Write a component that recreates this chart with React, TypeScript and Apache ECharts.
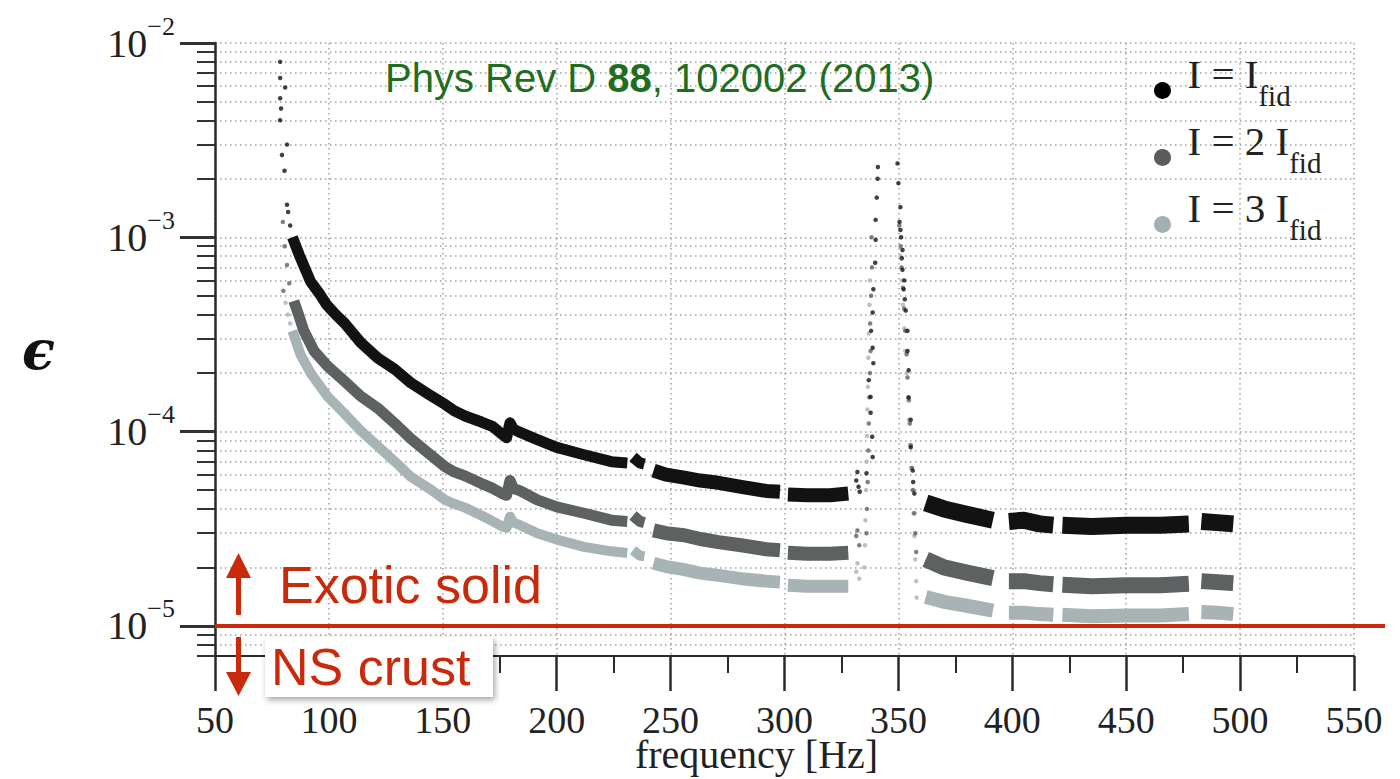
import React, { useEffect, useRef } from 'react';
import * as echarts from 'echarts';

// ---------- data ----------
const SERIES_NAMES = ['I = I_fid', 'I = 2 I_fid', 'I = 3 I_fid'];
const LEGEND_LABELS = ['{a|I = I}{s|fid}', '{a|I = 2 I}{s|fid}', '{a|I = 3 I}{s|fid}'];
const SERIES_COLORS = ['#121212', '#5d6161', '#a7b3b5'];
const LEGEND_COLORS = ['#000000', '#5b5b5b', '#a3b0b1'];

const X_MIN = 50;
const X_MAX = 550;
const X_STEP = 50;
const Y_MIN = 7e-6;
const Y_MAX = 1e-2;
const Y_DECADES = [1e-5, 1e-4, 1e-3, 1e-2];
const Y_GRID = [
  7e-6, 8e-6, 9e-6,
  1e-5, 2e-5, 3e-5, 4e-5, 5e-5, 6e-5, 7e-5, 8e-5, 9e-5,
  1e-4, 2e-4, 3e-4, 4e-4, 5e-4, 6e-4, 7e-4, 8e-4, 9e-4,
  1e-3, 2e-3, 3e-3, 4e-3, 5e-3, 6e-3, 7e-3, 8e-3, 9e-3,
  1e-2,
];

// dense bands (segments separated by gaps in the measurement)
const blackBand: number[][][] = [
  [[84, 1.0e-3], [87, 8.1e-4], [90, 6.7e-4], [92, 5.9e-4], [96, 5.1e-4], [99, 4.5e-4], [103, 4.0e-4], [107, 3.6e-4], [114, 2.87e-4], [121.5, 2.39e-4], [129, 2.09e-4], [136, 1.78e-4], [144, 1.55e-4], [151, 1.38e-4], [155, 1.28e-4], [160, 1.2e-4], [167, 1.12e-4], [172, 1.06e-4], [176, 9.7e-5], [178, 9.3e-5], [179.5, 1.11e-4], [181, 1.03e-4], [184, 9.9e-5], [191.5, 9.1e-5], [200, 8.3e-5], [212, 7.6e-5], [224, 7.0e-5], [231, 6.9e-5]],
  [[233.5, 7.4e-5], [236.5, 6.9e-5], [238.5, 6.8e-5]],
  [[242.5, 6.3e-5], [248, 6.0e-5], [256, 5.8e-5], [263, 5.6e-5], [271, 5.45e-5], [281, 5.2e-5], [292, 4.95e-5], [298, 4.9e-5]],
  [[301.5, 4.75e-5], [310, 4.7e-5], [320, 4.7e-5], [328, 4.8e-5]],
  [[362, 4.3e-5], [370, 4.0e-5], [380, 3.75e-5], [391.5, 3.5e-5]],
  [[398.5, 3.45e-5], [405, 3.5e-5], [412, 3.35e-5], [418, 3.3e-5]],
  [[422, 3.3e-5], [435, 3.25e-5], [450, 3.3e-5], [465, 3.3e-5], [477.5, 3.35e-5]],
  [[483, 3.45e-5], [490, 3.4e-5], [497, 3.35e-5]],
];
const darkBand: number[][][] = [
  [[84.6, 4.7e-4], [87, 3.9e-4], [89, 3.3e-4], [93.5, 2.6e-4], [99.3, 2.18e-4], [106.8, 1.82e-4], [114, 1.52e-4], [121.5, 1.32e-4], [129, 1.1e-4], [136, 9.2e-5], [144, 7.7e-5], [151, 6.6e-5], [155, 6.2e-5], [160, 5.9e-5], [167, 5.4e-5], [172, 5.1e-5], [176, 4.8e-5], [178, 4.7e-5], [179.5, 5.6e-5], [181, 5.1e-5], [184, 4.95e-5], [191.5, 4.45e-5], [200, 4.1e-5], [212, 3.8e-5], [224, 3.5e-5], [231, 3.45e-5]],
  [[233.5, 3.7e-5], [236.5, 3.45e-5], [238.5, 3.4e-5]],
  [[242.5, 3.1e-5], [248, 3.0e-5], [256, 2.93e-5], [263, 2.8e-5], [271, 2.7e-5], [281, 2.6e-5], [292, 2.48e-5], [298, 2.45e-5]],
  [[301.5, 2.38e-5], [310, 2.35e-5], [320, 2.35e-5], [328, 2.38e-5]],
  [[362, 2.2e-5], [370, 2.0e-5], [380, 1.88e-5], [391.5, 1.76e-5]],
  [[398.5, 1.7e-5], [405, 1.7e-5], [412, 1.66e-5], [418, 1.64e-5]],
  [[422, 1.63e-5], [435, 1.6e-5], [450, 1.62e-5], [465, 1.62e-5], [477.5, 1.65e-5]],
  [[483, 1.7e-5], [490, 1.68e-5], [497, 1.66e-5]],
];
const lightBand: number[][][] = [
  [[84, 3.3e-4], [87.5, 2.5e-4], [92, 2.0e-4], [99.3, 1.52e-4], [106.8, 1.24e-4], [114, 1.01e-4], [121.5, 8.4e-5], [129, 7.0e-5], [136, 5.85e-5], [144, 5.1e-5], [151, 4.45e-5], [155, 4.25e-5], [160, 4.05e-5], [167, 3.7e-5], [172, 3.45e-5], [176, 3.25e-5], [178, 3.2e-5], [179.5, 3.65e-5], [181, 3.4e-5], [184, 3.3e-5], [191.5, 3.0e-5], [200, 2.78e-5], [212, 2.55e-5], [224, 2.42e-5], [231, 2.37e-5]],
  [[233.5, 2.45e-5], [236.5, 2.3e-5], [238.5, 2.28e-5]],
  [[242.5, 2.1e-5], [248, 2.02e-5], [256, 1.95e-5], [263, 1.87e-5], [271, 1.82e-5], [281, 1.75e-5], [292, 1.7e-5], [298, 1.68e-5]],
  [[301.5, 1.62e-5], [310, 1.6e-5], [320, 1.6e-5], [328, 1.6e-5]],
  [[362, 1.41e-5], [370, 1.33e-5], [380, 1.27e-5], [391.5, 1.2e-5]],
  [[398.5, 1.17e-5], [405, 1.17e-5], [412, 1.15e-5], [418, 1.14e-5]],
  [[422, 1.14e-5], [435, 1.12e-5], [450, 1.13e-5], [465, 1.13e-5], [477.5, 1.15e-5]],
  [[483, 1.18e-5], [490, 1.17e-5], [497, 1.15e-5]],
];

// sparse points (low-frequency edge and the resonance spikes)
const blackDots: number[][] = [
  [78.6, 8.0e-3], [78.6, 6.6e-3], [80.8, 5.9e-3], [78.6, 5.2e-3], [79, 4.6e-3], [78.6, 4.0e-3], [81.6, 3.0e-3], [79.4, 2.65e-3], [80.5, 2.2e-3], [81.6, 1.47e-3], [82.1, 1.35e-3], [83, 1.15e-3],
  [331.5, 5.6e-5], [332, 6.2e-5], [332.5, 5.2e-5], [333, 4.9e-5],
  [341, 2.3e-3], [340.9, 2.0e-3], [340.5, 1.6e-3], [340, 1.23e-3], [340, 9.7e-4], [339.8, 7.4e-4], [339, 5.4e-4], [338.7, 4.1e-4], [338, 3.3e-4], [338.7, 2.7e-4], [339, 2.25e-4], [337, 1.84e-4], [337.8, 1.51e-4], [337.8, 1.25e-4], [338.5, 9.4e-5], [338.7, 7.4e-5], [336, 6.1e-5],
  [349.6, 2.4e-3], [350, 1.9e-3], [350.9, 1.43e-3], [350.5, 1.2e-3], [350.9, 1.09e-3], [351.2, 1.0e-3], [351.8, 8.6e-4], [351.5, 7.8e-4], [351.8, 6.8e-4], [352.6, 6.0e-4], [352.3, 5.4e-4], [352.8, 4.8e-4], [353.2, 4.2e-4], [354, 3.3e-4], [354, 2.6e-4], [354.5, 2.07e-4], [354.5, 1.5e-4], [355.4, 1.15e-4], [355.4, 8.3e-5], [356.3, 6.3e-5], [356.5, 5.5e-5], [357, 4.8e-5],
];
const darkDots: number[][] = [
  [79.8, 1.2e-3], [80.6, 9.0e-4], [81.6, 7.2e-4], [82.6, 5.8e-4], [80, 5.3e-4],
  [331.5, 2.9e-5], [332, 3.1e-5], [332.8, 2.6e-5],
  [338.2, 1.0e-3], [338.4, 7.0e-4], [338, 5.0e-4], [337.6, 3.6e-4], [337.8, 2.6e-4], [337.5, 2.0e-4], [337.2, 1.5e-4], [337, 1.1e-4], [336.8, 8e-5], [336.5, 5.5e-5], [336.2, 4e-5], [336, 3.0e-5],
  [350.4, 1.15e-3], [351, 9e-4], [351.4, 7e-4], [352, 5.5e-4], [352.5, 4.3e-4], [353, 3.3e-4], [353.6, 2.5e-4], [354, 1.9e-4], [354.6, 1.45e-4], [355, 1.1e-4], [355.5, 8.5e-5], [356, 6.5e-5], [356.5, 5e-5], [357, 3.8e-5], [357.4, 3e-5], [357.8, 2.4e-5],
];
const lightDots: number[][] = [
  [81, 4.6e-4], [82, 4.0e-4], [83, 3.6e-4],
  [331.5, 1.9e-5], [332, 2.1e-5], [332.8, 1.75e-5],
  [337.5, 6e-4], [337.3, 4.5e-4], [337, 3.2e-4], [336.8, 2.4e-4], [336.6, 1.7e-4], [336.4, 1.3e-4], [336.2, 9.5e-5], [336, 7e-5], [335.8, 5e-5], [335.5, 3.5e-5], [335.3, 2.6e-5], [335, 2.0e-5],
  [351, 8e-4], [351.6, 6e-4], [352, 4.5e-4], [352.6, 3.4e-4], [353, 2.6e-4], [353.6, 2.0e-4], [354.2, 1.5e-4], [354.6, 1.15e-4], [355, 8.5e-5], [355.5, 6.5e-5], [356, 5e-5], [356.6, 3.8e-5], [357, 2.9e-5], [357.4, 2.2e-5], [357.8, 1.7e-5], [358, 1.4e-5],
];

const THRESHOLD = 1e-5;
const RED = '#c92a0c';
const GREEN = '#1f6e1f';
const SERIF = '"Liberation Serif", "Times New Roman", serif';
const SANS = '"Liberation Sans", Arial, sans-serif';

// segment groups drawn with different band thickness (the scatter is tighter at low frequency)
const SEGMENT_GROUPS = [[0, 1], [2, 3], [4, 5, 6, 7]];
const GROUP_WIDTHS = [
  [11, 14, 17],
  [11, 14, 16],
  [10, 13, 14],
];

function joinSegments(segs: number[][][]): any[] {
  const out: any[] = [];
  segs.forEach((s, i) => {
    if (i > 0) out.push(['-', '-']);
    s.forEach((p) => out.push(p));
  });
  return out;
}

export default function App() {
  const ref = useRef<HTMLDivElement>(null);

  useEffect(() => {
    if (!ref.current) return;
    const chart = echarts.init(ref.current, undefined, { renderer: 'svg' });
    const bands = [blackBand, darkBand, lightBand];
    const dots = [blackDots, darkDots, lightDots];

    const series: any[] = [];
    SERIES_NAMES.forEach((name, i) => {
      SEGMENT_GROUPS.forEach((grp, g) => {
        series.push({
          name,
          type: 'line',
          data: joinSegments(grp.map((k) => bands[i][k])),
          symbol: 'none',
          showSymbol: false,
          connectNulls: false,
          silent: true,
          z: 6 - i,
          lineStyle: { color: SERIES_COLORS[i], width: GROUP_WIDTHS[i][g], join: 'round' },
          itemStyle: { color: SERIES_COLORS[i] },
        });
      });
      series.push({
        name,
        type: 'scatter',
        data: dots[i],
        symbolSize: 4.5,
        silent: true,
        z: 6 - i,
        itemStyle: { color: SERIES_COLORS[i] },
      });
    });

    const gridLine = { color: '#a0a0a0', width: 1.5, type: [1.5, 3.5] };

    chart.setOption({
      animation: false,
      backgroundColor: '#ffffff',
      grid: { left: 215, right: 46, top: 43, bottom: 123, containLabel: false, outerBoundsMode: 'none' },
      title: {
        left: 385,
        top: 58,
        padding: 0,
        text: '{n|Phys Rev D }{b|88}{n|, 102002 (2013)}',
        textStyle: {
          fontWeight: 'normal',
          rich: {
            n: { fontFamily: SANS, fontSize: 40, color: GREEN, fontWeight: 'normal' },
            b: { fontFamily: SANS, fontSize: 40, color: GREEN, fontWeight: 'bold' },
          },
        },
      },
      legend: {
        orient: 'vertical',
        left: 1154,
        top: 53,
        padding: 0,
        itemGap: 10,
        itemWidth: 40,
        itemHeight: 17,
        selectedMode: false,
        data: SERIES_NAMES.map((n, i) => ({ name: n, icon: 'circle', itemStyle: { color: LEGEND_COLORS[i] } })),
        formatter: (name: string) => LEGEND_LABELS[SERIES_NAMES.indexOf(name)],
        textStyle: {
          color: '#222',
          rich: {
            a: { fontFamily: SERIF, fontSize: 41, color: '#222', padding: [0, 0, 34, 0] },
            s: { fontFamily: SERIF, fontSize: 29, color: '#222', verticalAlign: 'bottom', padding: [0, 0, 18, 0] },
          },
        },
      },
      xAxis: {
        type: 'value',
        min: X_MIN,
        max: X_MAX,
        interval: X_STEP,
        name: 'frequency [Hz]',
        nameLocation: 'middle',
        nameGap: 78,
        nameMoveOverlap: false,
        nameTextStyle: { fontFamily: SERIF, fontSize: 40, color: '#222', padding: [0, 56, 0, 0] },
        axisLine: { show: true, onZero: false, lineStyle: { color: '#2a2a2a', width: 2 } },
        axisTick: { show: true, inside: false, length: 35, lineStyle: { color: '#2a2a2a', width: 2.5 } },
        minorTick: { show: true, splitNumber: 2, length: 17, lineStyle: { color: '#2a2a2a', width: 2 } },
        axisLabel: { fontFamily: SERIF, fontSize: 38, color: '#222', margin: 45, showMinLabel: true, showMaxLabel: true },
        splitLine: { show: true, lineStyle: gridLine },
      },
      yAxis: [
        {
          type: 'log',
          logBase: 10,
          min: Y_MIN,
          max: Y_MAX,
          position: 'left',
          name: 'ϵ',
          nameLocation: 'middle',
          nameRotate: 0,
          nameGap: 160,
          nameMoveOverlap: false,
          nameTextStyle: { fontFamily: '"DejaVu Serif", serif', fontStyle: 'italic', fontWeight: 'bold', fontSize: 54, color: '#111' },
          axisLine: { show: true, lineStyle: { color: '#2a2a2a', width: 2.5 } },
          axisTick: { show: true, inside: false, length: 35, customValues: Y_DECADES, lineStyle: { color: '#333', width: 3 } },
          axisLabel: {
            customValues: Y_DECADES,
            margin: 40,
            formatter: (v: number) => `{b|10}{s|−${Math.round(-Math.log10(v))}}`,
            rich: {
              b: { fontFamily: SERIF, fontSize: 40, color: '#222', padding: [10, 0, 10, 0] },
              s: { fontFamily: SERIF, fontSize: 26, color: '#222', verticalAlign: 'top' },
            },
          },
          splitLine: { show: false },
        },
        {
          type: 'log',
          logBase: 10,
          min: Y_MIN,
          max: Y_MAX,
          position: 'left',
          axisLine: { show: false },
          axisTick: { show: true, inside: false, length: 18, customValues: Y_GRID, lineStyle: { color: '#333', width: 2 } },
          axisLabel: { show: false },
          splitLine: { show: true, lineStyle: gridLine },
        },
      ],
      series,
    });

    const y5 = chart.convertToPixel({ yAxisIndex: 0 }, THRESHOLD) as number;
    const x0 = chart.convertToPixel({ xAxisIndex: 0 }, X_MIN) as number;
    chart.setOption({
      graphic: [
        { id: 'redline', type: 'line', z: 90, silent: true, shape: { x1: x0, y1: y5, x2: 1385, y2: y5 }, style: { stroke: RED, lineWidth: 4 } },
        { id: 'upHead', type: 'polygon', z: 100, silent: true, shape: { points: [[226, y5 - 48], [238.5, y5 - 73], [251, y5 - 48]] }, style: { fill: RED } },
        { id: 'upShaft', type: 'rect', z: 100, silent: true, shape: { x: 236, y: y5 - 50, width: 5, height: 39 }, style: { fill: RED } },
        { id: 'dnShaft', type: 'rect', z: 100, silent: true, shape: { x: 236, y: y5 + 11, width: 5, height: 37 }, style: { fill: RED } },
        { id: 'dnHead', type: 'polygon', z: 100, silent: true, shape: { points: [[226, y5 + 46], [251, y5 + 46], [238.5, y5 + 70]] }, style: { fill: RED } },
        { id: 'exotic', type: 'text', z: 100, silent: true, x: 279, y: y5 - 41, style: { text: 'Exotic solid', fontFamily: SANS, fontSize: 52, fill: RED, align: 'left', verticalAlign: 'middle' } },
        { id: 'nsbox', type: 'rect', z: 99, silent: true, shape: { x: 265, y: y5 + 11, width: 228, height: 60 }, style: { fill: '#ffffff', shadowBlur: 6, shadowOffsetX: 2, shadowOffsetY: 3, shadowColor: 'rgba(0,0,0,0.35)' } },
        { id: 'ns', type: 'text', z: 100, silent: true, x: 271, y: y5 + 41, style: { text: 'NS crust', fontFamily: SANS, fontSize: 52, fill: RED, align: 'left', verticalAlign: 'middle' } },
      ],
    });

    return () => chart.dispose();
  }, []);

  return <div ref={ref} style={{ position: 'fixed', left: 0, top: 0, width: 1400, height: 779, background: '#fff' }} />;
}
